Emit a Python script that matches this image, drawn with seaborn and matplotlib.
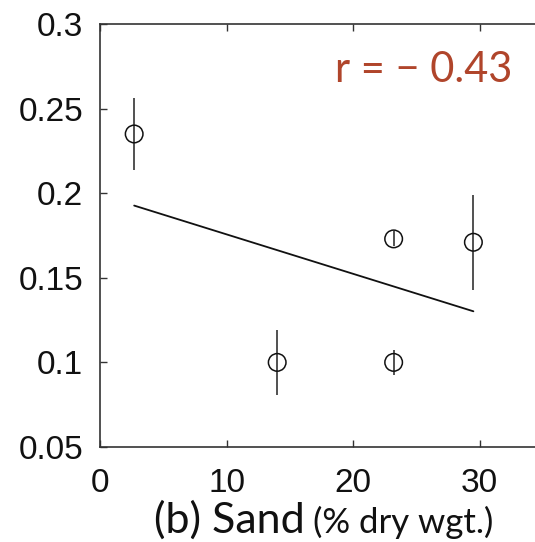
import numpy as np
import pandas as pd
import matplotlib
matplotlib.use("Agg")
import matplotlib.pyplot as plt
import seaborn as sns

# Sand content (% dry weight) and the measured response with its uncertainty
sand = [2.7, 14.0, 23.2, 23.2, 29.5]
value = [0.235, 0.100, 0.173, 0.100, 0.171]
err = [0.0215, 0.019, 0.0045, 0.0074, 0.028]

x_ticks = [0, 10, 20, 30]
y_ticks = [0.05, 0.1, 0.15, 0.2, 0.25, 0.3]
y_tick_labels = ["0.05", "0.1", "0.15", "0.2", "0.25", "0.3"]

r_label = "r = \u2212 0.43"
label_main = "(b) Sand"
label_unit = "(% dry wgt.)"

df = pd.DataFrame({"sand": sand, "value": value, "err": err})

sns.set_theme(style="white")
plt.rcParams["font.family"] = ["Liberation Sans", "DejaVu Sans"]

W, H = 535, 542
fig = plt.figure(figsize=(W / 100, H / 100), dpi=100)
ax = fig.add_axes([100 / W, 95 / H, 443 / W, 423 / H])

# vertical error bars without caps
ax.errorbar(df["sand"], df["value"], yerr=df["err"], fmt="none",
            ecolor="#222222", elinewidth=1.1, capsize=0, zorder=2)

# open circle markers
sns.scatterplot(data=df, x="sand", y="value", ax=ax, marker="o", s=160,
                facecolor="none", edgecolor="#111111", linewidth=1.1,
                zorder=3, legend=False)

# least-squares fit over the data range
sns.regplot(data=df, x="sand", y="value", ax=ax, scatter=False, ci=None,
            truncate=True, color="#111111", line_kws={"linewidth": 1.3})

ax.set_xlim(0, 35)
ax.set_ylim(0.05, 0.3)
ax.set_xticks(x_ticks)
ax.set_xticklabels([str(t) for t in x_ticks])
ax.set_yticks(y_ticks)
ax.set_yticklabels(y_tick_labels)
ax.set_xlabel("")
ax.set_ylabel("")

for side in ["left", "right", "top", "bottom"]:
    ax.spines[side].set_visible(True)
    ax.spines[side].set_color("#333333")
    ax.spines[side].set_linewidth(1.2)

ax.tick_params(axis="both", which="both", direction="in", length=5,
               width=1, color="#333333", labelsize=24, labelcolor="#111111",
               top=True, right=True, bottom=True, left=True)
ax.tick_params(axis="x", pad=15)
ax.tick_params(axis="y", pad=12)

ax.text(0.53, 0.863, r_label, transform=ax.transAxes, ha="left",
        va="baseline", fontsize=30, color="#B0452B",
        family=["Lato", "DejaVu Sans"])

# two-size axis caption
fig.text(305 / W, (H - 533) / H, label_main, ha="right", va="baseline",
         fontsize=31, color="#111111", family=["Lato", "DejaVu Sans"])
fig.text(313 / W, (H - 533) / H, label_unit, ha="left", va="baseline",
         fontsize=25, color="#111111", family=["Lato", "DejaVu Sans"])

fig.savefig("out.png", dpi=100)
